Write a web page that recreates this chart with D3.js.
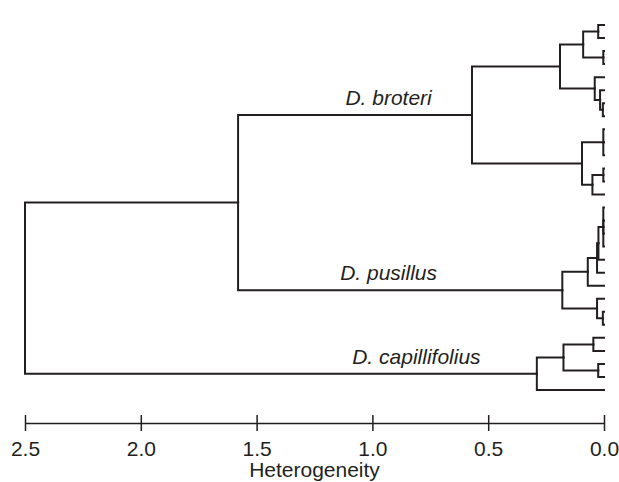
<!DOCTYPE html>
<html>
<head>
<meta charset="utf-8">
<script src="https://cdn.jsdelivr.net/npm/d3@7"></script>
<style>
  html, body { margin: 0; padding: 0; background: #fff; }
  svg { display: block; }
  text { font-family: "Liberation Sans", Arial, Helvetica, sans-serif; fill: #231f20; }
</style>
</head>
<body>
<script>
// ---- data ----
// dendrogram nodes: id, parent, height (heterogeneity at which the node joins)
const nodeIds = [
  "root", "AB", "A", "A1", "A1a", "A1a1", "b1", "b2", "A1a2", "b3", "b4",
  "A1b", "b5", "A1b1", "b6", "A1b2", "b7", "b8",
  "A2", "A2a", "b9", "b10", "b11", "A2b", "A2b1", "b12", "b13", "b14",
  "B", "B1", "B1a", "B1a1", "B1a1a", "p1", "p2", "p3", "p4", "p5", "p6", "p7",
  "B2", "p8", "B2a", "p9", "p10",
  "C", "C1", "C1a", "c1", "c2", "C1b", "c3", "c4", "c5"
];
const nodeParents = [
  null, "root", "AB", "A", "A1", "A1a", "A1a1", "A1a1", "A1a", "A1a2", "A1a2",
  "A1", "A1b", "A1b", "A1b1", "A1b1", "A1b2", "A1b2",
  "A", "A2", "A2a", "A2a", "A2a", "A2", "A2b", "A2b1", "A2b1", "A2b",
  "AB", "B", "B1", "B1a", "B1a1", "B1a1a", "B1a1a", "B1a1a", "B1a1a", "B1a1", "B1a", "B1",
  "B", "B2", "B2", "B2a", "B2a",
  "root", "C", "C1", "C1a", "C1a", "C1", "C1b", "C1b", "C"
];
const nodeHeights = [
  2.5, 1.58, 0.57, 0.19, 0.09, 0.025, 0, 0, 0.003, 0, 0,
  0.04, 0, 0.017, 0, 0.005, 0, 0,
  0.095, 0.003, 0, 0, 0, 0.05, 0.003, 0, 0, 0,
  0.18, 0.07, 0.03, 0.024, 0.003, 0, 0, 0, 0, 0, 0, 0,
  0.03, 0, 0.005, 0, 0,
  0.29, 0.175, 0.046, 0, 0, 0.025, 0, 0, 0
];
const cladeLabels = ["D. broteri", "D. pusillus", "D. capillifolius"];
const cladeNodes = ["A", "B", "C"];
const tickValues = [2.5, 2.0, 1.5, 1.0, 0.5, 0.0];
const axisTitle = "Heterogeneity";

// ---- chart ----
const W = 619, H = 482;
const svg = d3.select("body").append("svg").attr("width", W).attr("height", H);

const table = nodeIds.map((id, i) => ({ id, parent: nodeParents[i], h: nodeHeights[i] }));
const root = d3.stratify().id(d => d.id).parentId(d => d.parent)(table);

const leaves = root.leaves();
const x = d3.scaleLinear().domain([2.5, 0]).range([25, 604]);
const y = d3.scaleLinear().domain([0, leaves.length - 1]).range([25, 390]);

leaves.forEach((l, i) => { l.yPos = y(i); });
root.eachAfter(n => {
  if (n.children) {
    const c = n.children;
    n.yPos = (c[0].yPos + c[c.length - 1].yPos) / 2;
  }
});

const ink = "#231f20";
svg.append("g")
  .selectAll("path")
  .data(root.descendants().filter(n => n.parent))
  .join("path")
  .attr("d", n => `M${x(n.parent.data.h)},${n.parent.yPos}V${n.yPos}H${x(n.data.h)}`)
  .attr("fill", "none")
  .attr("stroke", ink)
  .attr("stroke-width", 2)
  .attr("stroke-linejoin", "miter")
  .attr("stroke-linecap", "square");

// clade labels, above the branch leading into each clade
const labelCenters = { A: 0.93, B: 0.93, C: 0.81 };
cladeNodes.forEach((id, i) => {
  const n = root.descendants().find(d => d.id === id);
  svg.append("text")
    .attr("x", x(labelCenters[id]))
    .attr("y", n.yPos - 10)
    .attr("text-anchor", "middle")
    .attr("font-size", 21)
    .attr("font-style", "italic")
    .text(cladeLabels[i]);
});

// axis
const axisY = 423;
const axis = d3.axisBottom(x)
  .tickValues(tickValues)
  .tickFormat(d3.format(".1f"))
  .tickSizeInner(8)
  .tickSizeOuter(0)
  .tickPadding(10);
const gAxis = svg.append("g").attr("transform", `translate(0,${axisY})`).call(axis);
gAxis.select(".domain").attr("stroke", ink).attr("stroke-width", 1.5);
gAxis.selectAll(".tick line").attr("y1", -8).attr("y2", 8).attr("stroke", ink).attr("stroke-width", 1.5);
gAxis.selectAll(".tick text")
  .attr("font-size", 21)
  .attr("font-family", "Liberation Sans, Arial, Helvetica, sans-serif")
  .attr("fill", ink);

svg.append("text")
  .attr("x", (x.range()[0] + x.range()[1]) / 2)
  .attr("y", 477)
  .attr("text-anchor", "middle")
  .attr("font-size", 21)
  .text(axisTitle);
</script>
</body>
</html>
